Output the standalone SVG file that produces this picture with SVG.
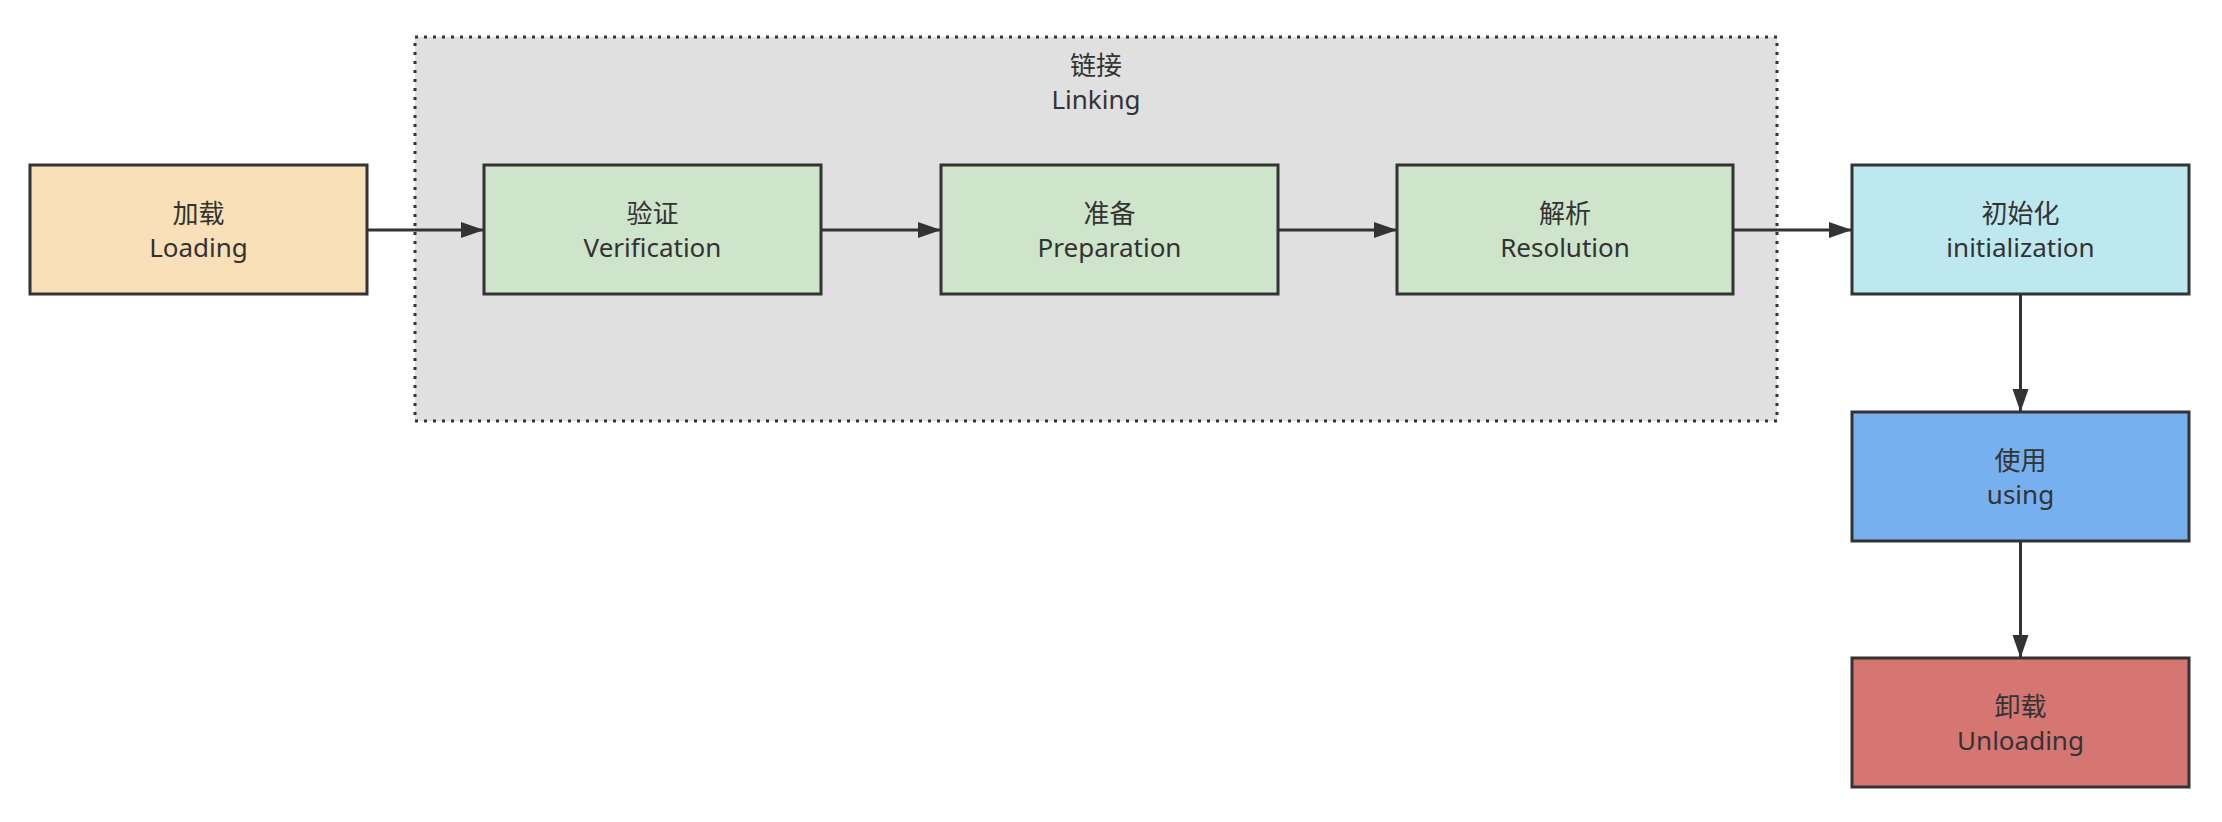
<svg xmlns="http://www.w3.org/2000/svg" width="2222" height="822" viewBox="0 0 2222 822">
<style>
.box{stroke:#333;stroke-width:3}
.zh{font-family:"Noto Sans CJK SC","Noto Sans",sans-serif;font-size:26px;fill:#333;text-anchor:middle}
.en{font-family:"Noto Sans","Noto Sans CJK SC",sans-serif;font-size:26px;fill:#333;text-anchor:middle}
.edge{stroke:#333;stroke-width:3;fill:none;marker-end:url(#ah)}
</style>
<defs>
<marker id="ah" markerUnits="userSpaceOnUse" markerWidth="24" markerHeight="18" refX="23" refY="9" orient="auto">
<path d="M0,1 L23,9 L0,17 Z" fill="#333"/>
</marker>
</defs>
<rect width="2222" height="822" fill="#fff"/>
<g id="linking">
<rect x="415" y="37" width="1362" height="384" fill="#e0e0e0" stroke="#333" stroke-width="3" stroke-dasharray="3 6"/>
<text class="zh" x="1096" y="75">链接</text>
<text class="en" x="1096" y="109">Linking</text>
</g>
<g id="connectors">
<path class="edge" d="M367,230 L484,230"/>
<path class="edge" d="M821,230 L941,230"/>
<path class="edge" d="M1278,230 L1397,230"/>
<path class="edge" d="M1733,230 L1852,230"/>
<path class="edge" d="M2020.5,294 L2020.5,412"/>
<path class="edge" d="M2020.5,541 L2020.5,658"/>
</g>
<g id="loading">
<rect class="box" x="30" y="165" width="337" height="129" fill="#f9e0b8"/>
<text class="zh" x="198.5" y="223">加载</text>
<text class="en" x="198.5" y="257">Loading</text>
</g>
<g id="verification">
<rect class="box" x="484" y="165" width="337" height="129" fill="#cee4cb"/>
<text class="zh" x="652.5" y="223">验证</text>
<text class="en" x="652.5" y="257">Verification</text>
</g>
<g id="preparation">
<rect class="box" x="941" y="165" width="337" height="129" fill="#cee4cb"/>
<text class="zh" x="1109.5" y="223">准备</text>
<text class="en" x="1109.5" y="257">Preparation</text>
</g>
<g id="resolution">
<rect class="box" x="1397" y="165" width="336" height="129" fill="#cee4cb"/>
<text class="zh" x="1565" y="223">解析</text>
<text class="en" x="1565" y="257">Resolution</text>
</g>
<g id="initialization">
<rect class="box" x="1852" y="165" width="337" height="129" fill="#bee8f0"/>
<text class="zh" x="2020.5" y="223">初始化</text>
<text class="en" x="2020.5" y="257">initialization</text>
</g>
<g id="using">
<rect class="box" x="1852" y="412" width="337" height="129" fill="#76b0ee"/>
<text class="zh" x="2020.5" y="470">使用</text>
<text class="en" x="2020.5" y="504">using</text>
</g>
<g id="unloading">
<rect class="box" x="1852" y="658" width="337" height="129" fill="#d57673"/>
<text class="zh" x="2020.5" y="716">卸载</text>
<text class="en" x="2020.5" y="750">Unloading</text>
</g>
</svg>
